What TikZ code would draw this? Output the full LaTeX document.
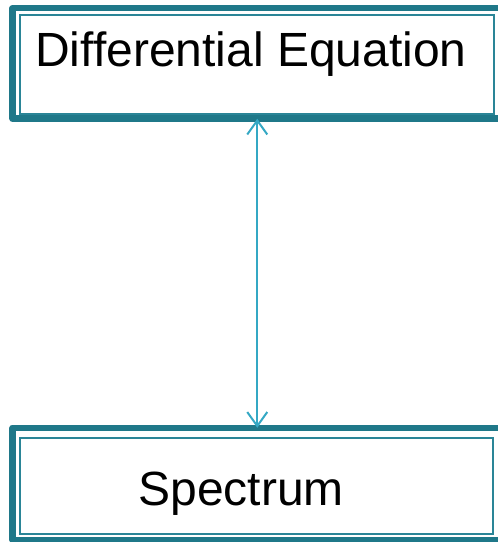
\documentclass[tikz,border=0pt]{standalone}
\usepackage{fontspec}
\setmainfont{Liberation Sans}
\usetikzlibrary{arrows.meta}
\definecolor{boxteal}{HTML}{1F7889}
\definecolor{thinteal}{HTML}{2A8597}
\definecolor{arrowcyan}{HTML}{34A8C4}
\tikzset{
  outerbox/.style={draw=boxteal, line width=6.5bp, line join=round, rectangle, inner sep=0, outer sep=0},
  innerbox/.style={draw=thinteal, line width=2bp, rectangle, inner sep=0, outer sep=0},
  label text/.style={inner sep=0, anchor=base, font=\fontsize{48bp}{58bp}\selectfont, text=black},
  linkarrow/.style={draw=arrowcyan, line width=2bp, {Straight Barb[length=14bp,width=20bp]}-{Straight Barb[length=14bp,width=20bp]}}
}
\begin{document}
\begin{tikzpicture}[x=1bp, y=-1bp]
\clip (0,0) rectangle (498,542);
\fill[white] (0,0) rectangle (498,542);
% top box
\node[outerbox, minimum width=489bp, minimum height=110.5bp] (de) at (257.25,63.5) {};
\node[innerbox, minimum width=474bp, minimum height=99bp] (deinner) at (257,64.5) {};
\node[label text] (detext) at (251,67) {Differential Equation};
% bottom box
\node[outerbox, minimum width=489bp, minimum height=112bp] (sp) at (257.25,483.75) {};
\node[innerbox, minimum width=473bp, minimum height=96bp] (spinner) at (256.5,486) {};
\node[label text] (sptext) at (241,505) {Spectrum};
% connector
\draw[linkarrow] (de.south) -- (sp.north);
\end{tikzpicture}
\end{document}
